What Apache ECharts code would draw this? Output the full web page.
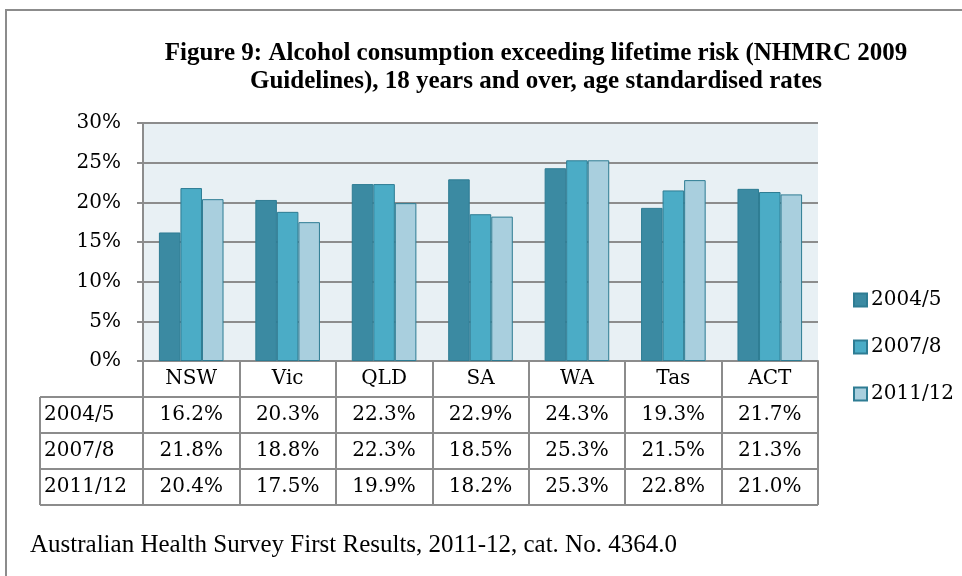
<!DOCTYPE html>
<html>
<head>
<meta charset="utf-8">
<script src="https://cdn.jsdelivr.net/npm/echarts@6/dist/echarts.min.js"></script>
<style>
html, body { margin: 0; padding: 0; background: #fff; }
#chart { width: 962px; height: 576px; }
</style>
</head>
<body>
<div id="chart"></div>
<script>
// data
var states = ['NSW', 'Vic', 'QLD', 'SA', 'WA', 'Tas', 'ACT'];
var periods = ['2004/5', '2007/8', '2011/12'];
var rate2004 = [16.2, 20.3, 22.3, 22.9, 24.3, 19.3, 21.7];
var rate2007 = [21.8, 18.8, 22.3, 18.5, 25.3, 21.5, 21.3];
var rate2011 = [20.4, 17.5, 19.9, 18.2, 25.3, 22.8, 21.0];
var yTicks = [0, 5, 10, 15, 20, 25, 30];

var rows = [rate2004, rate2007, rate2011];
var colors = ['#3b8aa2', '#4bacc6', '#a9cfde'];
var lineGray = '#8c8c8c';
var serif = 'DejaVu Serif';
var rowH = 36;

var myChart = echarts.init(document.getElementById('chart'));

// one category axis per table row, its labels are the row values
var tableAxes = rows.map(function (r, k) {
    return {
        type: 'category',
        data: states,
        gridIndex: 0,
        position: 'bottom',
        offset: rowH * (k + 1),
        axisLine: { lineStyle: { color: lineGray, width: 2 } },
        axisTick: { show: false },
        axisLabel: {
            margin: 8,
            interval: 0,
            color: '#000',
            fontFamily: serif,
            fontSize: 20,
            formatter: function (v, i) { return r[i].toFixed(1) + '%'; }
        }
    };
});

var option = {
    animation: false,
    title: {
        text: 'Figure 9: Alcohol consumption exceeding lifetime risk (NHMRC 2009\nGuidelines), 18 years and over, age standardised rates',
        left: 536,
        top: 40,
        padding: 0,
        textAlign: 'center',
        textStyle: {
            fontFamily: 'Liberation Serif',
            fontWeight: 'bold',
            fontSize: 25,
            lineHeight: 28,
            color: '#000'
        }
    },
    legend: {
        orient: 'vertical',
        left: 853,
        top: 290,
        padding: 0,
        itemWidth: 13,
        itemHeight: 13,
        itemGap: 27,
        icon: 'rect',
        data: periods,
        textStyle: { fontFamily: serif, fontSize: 20, color: '#000', padding: [0, 0, 0, -1] }
    },
    grid: {
        left: 143,
        top: 123,
        width: 675,
        height: 238,
        show: true,
        backgroundColor: '#e8f0f4',
        borderWidth: 0
    },
    xAxis: [{
        type: 'category',
        data: states,
        position: 'bottom',
        axisLine: { lineStyle: { color: lineGray, width: 2 } },
        axisTick: { show: true, interval: 0, length: rowH * 4, lineStyle: { color: lineGray, width: 2 } },
        axisLabel: { margin: 8, interval: 0, color: '#000', fontFamily: serif, fontSize: 20 }
    }].concat(tableAxes),
    yAxis: {
        type: 'value',
        min: yTicks[0],
        max: yTicks[yTicks.length - 1],
        interval: 5,
        axisLine: { show: true, lineStyle: { color: lineGray, width: 2 } },
        axisTick: { show: true, length: 6, lineStyle: { color: lineGray, width: 2 } },
        axisLabel: { margin: 22, color: '#000', fontFamily: serif, fontSize: 20, formatter: '{value}%' },
        splitLine: { lineStyle: { color: lineGray, width: 2 } }
    },
    series: rows.map(function (r, k) {
        return {
            name: periods[k],
            type: 'bar',
            xAxisIndex: 0,
            data: r,
            barGap: '0%',
            barCategoryGap: '33%',
            itemStyle: { color: colors[k], borderColor: '#2e7c93', borderWidth: 1 }
        };
    }),
    graphic: [
        // outer frame
        { type: 'rect', shape: { x: 6, y: 10, width: 1000, height: 600 },
          style: { fill: 'none', stroke: lineGray, lineWidth: 2 }, silent: true },
        // table: bottom line and the row-label column
        { type: 'line', shape: { x1: 40, y1: 505, x2: 818, y2: 505 }, style: { stroke: lineGray, lineWidth: 2 } },
        { type: 'line', shape: { x1: 40, y1: 397, x2: 40, y2: 505 }, style: { stroke: lineGray, lineWidth: 2 } },
        { type: 'line', shape: { x1: 40, y1: 397, x2: 143, y2: 397 }, style: { stroke: lineGray, lineWidth: 2 } },
        { type: 'line', shape: { x1: 40, y1: 433, x2: 143, y2: 433 }, style: { stroke: lineGray, lineWidth: 2 } },
        { type: 'line', shape: { x1: 40, y1: 469, x2: 143, y2: 469 }, style: { stroke: lineGray, lineWidth: 2 } }
    ].concat(periods.map(function (p, k) {
        return {
            type: 'text', left: 44, top: 397 + rowH * k + 8,
            style: { text: p, fontFamily: serif, fontSize: 20, fill: '#000' }
        };
    })).concat([{
        type: 'text', left: 30, top: 533,
        style: {
            text: 'Australian Health Survey First Results, 2011-12, cat. No. 4364.0',
            fontFamily: 'Liberation Serif', fontSize: 25, fill: '#000'
        }
    }])
};
myChart.setOption(option);
</script>
</body>
</html>
